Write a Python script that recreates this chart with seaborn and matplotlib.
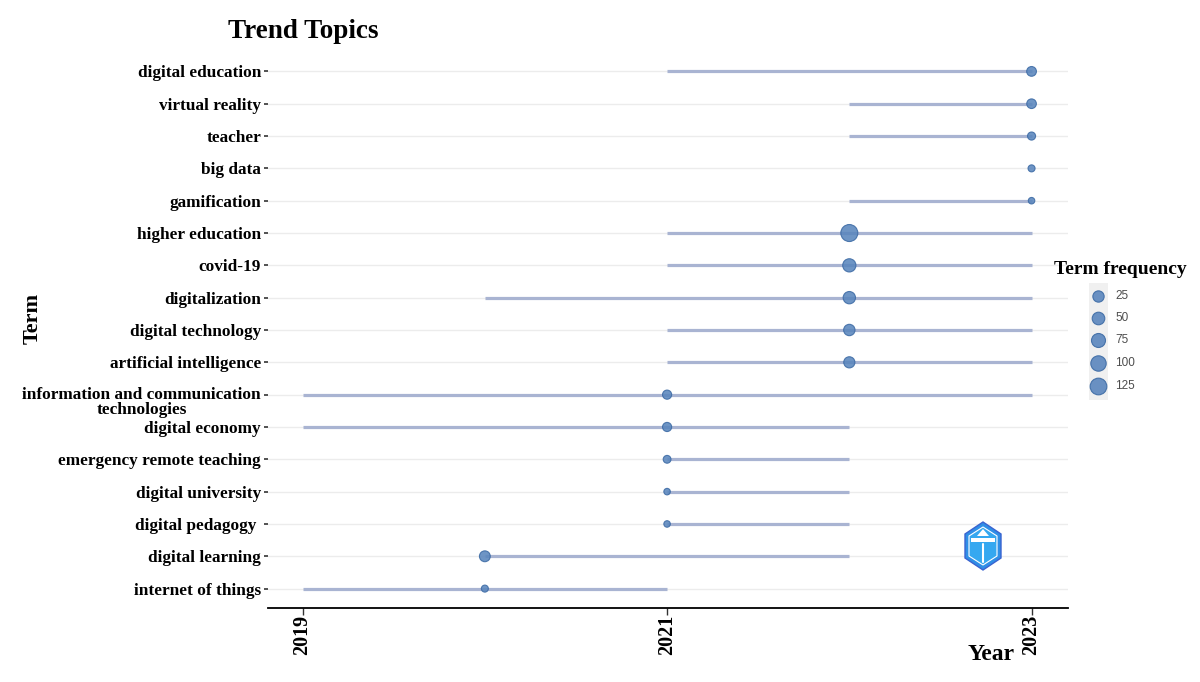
import numpy as np
import pandas as pd
import matplotlib
matplotlib.use("Agg")
import matplotlib.pyplot as plt
import matplotlib.transforms as mtransforms
import seaborn as sns
from matplotlib.lines import Line2D
from matplotlib.patches import Rectangle, Polygon

# ---------------- data ----------------
terms = [
    "digital education", "virtual reality", "teacher", "big data", "gamification",
    "higher education", "covid-19", "digitalization", "digital technology",
    "artificial intelligence", "information and communication\ntechnologies",
    "digital economy", "emergency remote teaching", "digital university",
    "digital pedagogy ", "digital learning", "internet of things",
]
year_q1 = [2021, 2022, 2022, 2023, 2022, 2021, 2021, 2020, 2021, 2021,
           2019, 2019, 2021, 2021, 2021, 2020, 2019]
year_med = [2023, 2023, 2023, 2023, 2023, 2022, 2022, 2022, 2022, 2022,
            2021, 2021, 2021, 2021, 2021, 2020, 2020]
year_q3 = [2023, 2023, 2023, 2023, 2023, 2023, 2023, 2023, 2023, 2023,
           2023, 2022, 2022, 2022, 2022, 2022, 2021]
freq = [35, 34, 22, 15, 12, 120, 70, 60, 50, 48, 30, 30, 20, 12, 12, 45, 15]
legend_values = [25, 50, 75, 100, 125]
x_ticks = [2019, 2021, 2023]

df = pd.DataFrame({"term": terms, "q1": year_q1, "med": year_med,
                   "q3": year_q3, "freq": freq})
df["pos"] = np.arange(len(df))

# ---------------- style ----------------
sns.set_theme(style="white")
plt.rcParams["font.family"] = ["Liberation Serif", "DejaVu Serif"]
plt.rcParams["text.color"] = "black"

W, H = 1200, 682
fig = plt.figure(figsize=(12, 6.82), dpi=100)

def fx(px):
    return px / W

def fy(py):
    return 1 - py / H

ax = fig.add_axes([fx(268), fy(608), fx(1068) - fx(268), fy(52) - fy(608)])

# horizontal grid lines
for p in df["pos"]:
    ax.axhline(p, color="#ececec", lw=1.0, zorder=0)

# range lines
ax.hlines(df["pos"], df["q1"], df["q3"], color="#a9b4d2", lw=2.3, zorder=1)

# points
sns.scatterplot(data=df, x="med", y="pos", size="freq", sizes=(21.9, 150),
                size_norm=(12, 120), color="#5a86bd", alpha=0.88,
                edgecolor="#3d6ba5", linewidth=0.8, legend=False, ax=ax, zorder=3)

ax.set_xlim(2018.81, 2023.2)
ax.set_ylim(len(df) - 1 + 0.6, -0.6)
ax.set_yticks(df["pos"])
single = [t if "\n" not in t else "" for t in df["term"]]
ax.set_yticklabels(single)
ax.set_xticks(x_ticks)
ax.set_xticklabels([str(t) for t in x_ticks])
ax.set_xlabel("")
ax.set_ylabel("")

for lab in ax.get_yticklabels():
    lab.set_fontweight("bold")
    lab.set_fontsize(12.4)
    lab.set_color("black")

# multi-line term label drawn with a slight downward offset (as in reference)
ytrans = ax.get_yaxis_transform() + mtransforms.ScaledTranslation(
    -7 / 100, -8 / 100, fig.dpi_scale_trans)
for t, p in zip(df["term"], df["pos"]):
    if "\n" in t:
        ax.text(0, p, t, transform=ytrans, ha="right", va="center",
                multialignment="center", linespacing=0.95, fontsize=12.4,
                fontweight="bold", color="black", clip_on=False)

for lab in ax.get_xticklabels():
    lab.set_fontweight("bold")
    lab.set_fontsize(14.5)
    lab.set_color("black")
    lab.set_rotation(90)
    lab.set_va("top")

ax.tick_params(axis="y", length=3, width=1.2, color="#333333", pad=2, left=True)
ax.tick_params(axis="x", length=5, width=1.0, color="#333333", pad=0, bottom=True)

for s in ["left", "top", "right"]:
    ax.spines[s].set_visible(False)
ax.spines["bottom"].set_color("black")
ax.spines["bottom"].set_linewidth(1.3)
ax.set_facecolor("white")

# titles
fig.text(fx(228), fy(32), "Trend Topics", ha="left", va="center",
         fontsize=19.5, fontweight="bold", color="black")
fig.text(fx(33), fy(318), "Term", ha="center", va="center", rotation=90,
         fontsize=16, fontweight="bold", color="black")
fig.text(fx(991), fy(655), "Year", ha="center", va="center",
         fontsize=17, fontweight="bold", color="black")

# legend (manual, ggplot-like)
fig.text(fx(1120), fy(270), "Term frequency", ha="center", va="center",
         fontsize=14, fontweight="bold", color="black")
fig.add_artist(Rectangle((fx(1089), fy(400)), fx(1108) - fx(1089), fy(283) - fy(400),
                         transform=fig.transFigure, facecolor="#f0f0f0",
                         edgecolor="none", zorder=1))
leg_y = [296, 318, 340, 363, 386]
leg_d = [11.3, 12.6, 14.0, 15.4, 16.7]
for v, yy, d in zip(legend_values, leg_y, leg_d):
    fig.add_artist(Line2D([fx(1098)], [fy(yy)], marker="o", markersize=d / 1.389,
                          markerfacecolor="#5a86bd", markeredgecolor="#3d6ba5",
                          markeredgewidth=0.8, alpha=0.9, linestyle="none",
                          transform=fig.transFigure, zorder=2))
    fig.text(fx(1115), fy(yy), str(v), ha="left", va="center", fontsize=8.5,
             color="#4d4d4d", family=["Liberation Sans", "DejaVu Sans"])

# logo (hexagon badge)
cx, cy = 983, 546
outer = [(cx, 522), (cx + 18, 534), (cx + 18, 558), (cx, 570), (cx - 18, 558), (cx - 18, 534)]
inner = [(cx, 527), (cx + 14, 536), (cx + 14, 556), (cx, 565), (cx - 14, 556), (cx - 14, 536)]
fig.add_artist(Polygon([(fx(a), fy(b)) for a, b in outer], closed=True,
                       transform=fig.transFigure, facecolor="#2f8fe6",
                       edgecolor="#3a63d0", lw=1.0, zorder=2))
fig.add_artist(Polygon([(fx(a), fy(b)) for a, b in inner], closed=True,
                       transform=fig.transFigure, facecolor="#35a8f0",
                       edgecolor="white", lw=0.8, zorder=3))
fig.add_artist(Rectangle((fx(cx - 12), fy(542)), fx(24), 4 / H,
                         transform=fig.transFigure, facecolor="white",
                         edgecolor="none", zorder=4))
fig.add_artist(Polygon([(fx(cx), fy(529)), (fx(cx + 6), fy(536)), (fx(cx - 6), fy(536))],
                       closed=True, transform=fig.transFigure, facecolor="white",
                       edgecolor="none", zorder=4))
fig.add_artist(Line2D([fx(cx), fx(cx)], [fy(544), fy(562)], color="white", lw=1.5,
                      transform=fig.transFigure, zorder=4))

fig.savefig("out.png", dpi=100, facecolor="white")
